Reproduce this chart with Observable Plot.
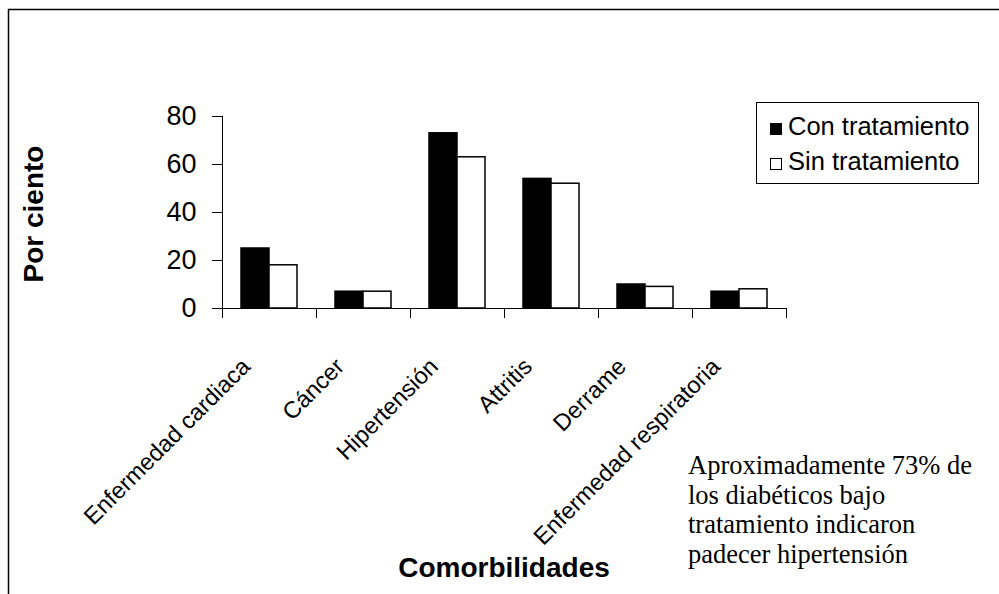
<!DOCTYPE html>
<html>
<head>
<meta charset="utf-8">
<script src="https://cdn.jsdelivr.net/npm/d3@7"></script>
<script src="https://cdn.jsdelivr.net/npm/@observablehq/plot@0.6"></script>
<style>
  html, body { margin: 0; padding: 0; background: #fff; }
  #wrap { position: relative; width: 999px; height: 594px; overflow: hidden; background: #fff; }
  #wrap > svg { position: absolute; left: 0; top: 0; }
  #overlay { pointer-events: none; }
</style>
</head>
<body>
<div id="wrap"></div>
<script>
// ---- data ----
const categories = ["Enfermedad cardiaca", "Cáncer", "Hipertensión", "Attritis", "Derrame", "Enfermedad respiratoria"];
const series = ["Con tratamiento", "Sin tratamiento"];
const conTratamiento = [25, 7, 73, 54, 10, 7];
const sinTratamiento = [18, 7, 63, 52, 9, 8];
const yTicks = [0, 20, 40, 60, 80];
const yTitle = "Por ciento";
const xTitle = "Comorbilidades";
const noteLines = ["Aproximadamente 73% de", "los diabéticos bajo", "tratamiento indicaron", "padecer hipertensión"];

const rows = [];
categories.forEach((c, i) => {
  rows.push({cat: c, serie: series[0], value: conTratamiento[i]});
  rows.push({cat: c, serie: series[1], value: sinTratamiento[i]});
});

const sans = "'Liberation Sans', Arial, sans-serif";
const serif = "'Liberation Serif', 'Times New Roman', serif";

const chart = Plot.plot({
  width: 999,
  height: 594,
  marginLeft: 219,
  marginRight: 211,
  marginTop: 116,
  marginBottom: 286,
  style: {fontFamily: sans, fontSize: "27px", color: "#000", background: "transparent", overflow: "visible"},
  fx: {domain: categories, padding: 0, axis: null},
  x: {domain: series, paddingInner: 0, paddingOuter: 0.667, axis: null},
  y: {domain: [0, 80], ticks: yTicks, tickSize: 10, tickPadding: 16, line: true, label: null},
  color: {domain: series, range: ["#000", "#fff"]},
  marks: [
    Plot.barY(rows, {fx: "cat", x: "serie", y: "value", fill: "serie", stroke: "#000", strokeWidth: 1.5}),
    Plot.ruleY([0], {stroke: "#000"}),
    Plot.frame({anchor: "left", insetTop: 192, insetBottom: -9, stroke: "#000"}),
    Plot.frame({anchor: "right", insetTop: 192, insetBottom: -9, stroke: "#000"}),
    Plot.text(categories, {
      fx: d => d, text: d => d, frameAnchor: "bottom", rotate: -45,
      textAnchor: "end", lineAnchor: "bottom", dx: -18, dy: 59.5,
      fontSize: 23.5, fontFamily: sans, fill: "#000"
    })
  ]
});

const wrap = document.getElementById("wrap");
wrap.appendChild(chart);

// ---- overlay: border, titles, legend, note ----
const svg = d3.select(wrap).append("svg")
  .attr("id", "overlay")
  .attr("width", 999).attr("height", 594);

svg.append("rect")
  .attr("x", 8.5).attr("y", 9.5).attr("width", 1200).attr("height", 1000)
  .attr("fill", "none").attr("stroke", "#000").attr("stroke-width", 1.5);

svg.append("text")
  .attr("transform", "translate(43,214) rotate(-90)")
  .attr("text-anchor", "middle")
  .attr("font-family", sans).attr("font-weight", "bold").attr("font-size", 28)
  .text(yTitle);

svg.append("text")
  .attr("x", 504).attr("y", 577)
  .attr("text-anchor", "middle")
  .attr("font-family", sans).attr("font-weight", "bold").attr("font-size", 28)
  .text(xTitle);

// legend
svg.append("rect")
  .attr("x", 756.5).attr("y", 102.5).attr("width", 222).attr("height", 81)
  .attr("fill", "#fff").attr("stroke", "#000").attr("stroke-width", 1);
const swatchFill = ["#000", "#fff"];
series.forEach((s, i) => {
  const y0 = 123.5 + i * 35;
  svg.append("rect")
    .attr("x", 770.5).attr("y", y0).attr("width", 11).attr("height", 11)
    .attr("fill", swatchFill[i]).attr("stroke", "#000").attr("stroke-width", 1);
  svg.append("text")
    .attr("x", 788).attr("y", y0 + 11.5)
    .attr("font-family", sans).attr("font-size", 25.5)
    .text(s);
});

// note
noteLines.forEach((line, i) => {
  svg.append("text")
    .attr("x", 688).attr("y", 474 + i * 29.7)
    .attr("font-family", serif).attr("font-size", 26.5)
    .text(line);
});
</script>
</body>
</html>
